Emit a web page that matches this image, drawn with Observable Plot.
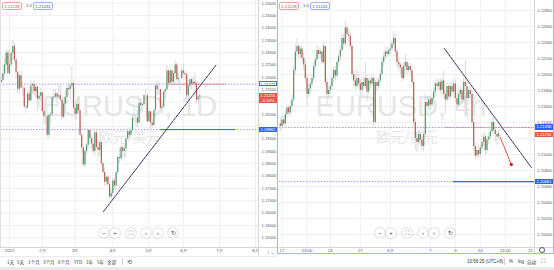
<!DOCTYPE html>
<html><head><meta charset="utf-8">
<script src="https://cdn.jsdelivr.net/npm/d3@7"></script>
<script src="https://cdn.jsdelivr.net/npm/@observablehq/plot@0.6"></script>
<style>
body{margin:0;background:#fff;font-family:"Liberation Sans",Arial,sans-serif;}
#wrap{position:relative;width:554px;height:270px;overflow:hidden;background:#fff}
</style></head>
<body><div id="wrap"></div>
<script>
// ---------------- DATA ----------------
// Daily EURUSD candles, index 0 = first trading day of 2021
const dailyStart = -5;
const dailyOpen0 = 1.2180;
const dailyClose = [
1.2187,1.2214,1.2250,1.2298,1.2215,
1.2250,1.2296,1.2325,1.2270,1.2220,1.2152,1.2206,1.2157,1.2156,1.2080,1.2076,1.2132,1.2105,1.2165,1.2171,1.2141,1.2160,1.2112,1.2123,1.2137,
1.2060,1.2040,1.2040,1.1965,1.2045,1.2050,1.2118,1.2120,1.2133,1.2120,1.2125,1.2108,1.2038,1.2092,1.2118,1.2155,1.2150,1.2165,1.2175,1.2075,
1.2050,1.2090,1.2065,1.1965,1.1915,1.1845,1.1900,1.1925,1.1985,1.1952,1.1930,1.1900,1.1975,1.1915,1.1905,1.1935,1.1850,1.1815,1.1775,1.1795,1.1765,1.1715,1.1730,
1.1780,1.1760,1.1815,1.1875,1.1870,1.1915,1.1900,1.1910,1.1950,1.1980,1.1965,1.1985,1.2035,1.2035,1.2035,1.2015,1.2095,1.2085,1.2090,1.2125,1.2125,1.2020,
1.2060,1.2015,1.2005,1.2065,1.2165,1.2150,1.2150,1.2075,1.2080,1.2140,1.2150,1.2225,1.2175,1.2225,1.2180,1.2215,1.2250,1.2190,1.2195,1.2195,1.2225,
1.2215,1.2210,1.2125,1.2165,1.2190,1.2172,1.2180,1.2173,1.2108,1.2120,1.2125];
const dailyHigh = [
1.2210,1.2250,1.2275,1.2310,1.2310,
1.2310,1.2303,1.2349,1.2340,1.2280,1.2222,1.2212,1.2223,1.2180,1.2162,1.2090,1.2145,1.2150,1.2190,1.2180,1.2185,1.2170,1.2164,1.2140,1.2153,
1.2140,1.2075,1.2060,1.2045,1.2050,1.2060,1.2125,1.2150,1.2150,1.2135,1.2170,1.2168,1.2110,1.2100,1.2145,1.2170,1.2180,1.2170,1.2243,1.2185,
1.2100,1.2110,1.2115,1.2070,1.1970,1.1925,1.1912,1.1935,1.1990,1.1990,1.1965,1.1950,1.1985,1.1990,1.1945,1.1945,1.1940,1.1855,1.1835,1.1800,1.1800,1.1775,1.1745,
1.1790,1.1790,1.1820,1.1880,1.1915,1.1925,1.1925,1.1925,1.1955,1.1990,1.1995,1.1995,1.2050,1.2080,1.2045,1.2070,1.2100,1.2115,1.2095,1.2130,1.2150,1.2130,
1.2075,1.2060,1.2030,1.2070,1.2172,1.2180,1.2185,1.2150,1.2090,1.2145,1.2160,1.2245,1.2230,1.2235,1.2230,1.2225,1.2266,1.2260,1.2215,1.2200,1.2235,
1.2254,1.2225,1.2215,1.2185,1.2195,1.2195,1.2200,1.2218,1.2180,1.2130,1.2146];
const dailyLow = [
1.2170,1.2180,1.2205,1.2245,1.2205,
1.2210,1.2245,1.2265,1.2255,1.2193,1.2132,1.2133,1.2154,1.2120,1.2075,1.2054,1.2070,1.2100,1.2100,1.2130,1.2120,1.2117,1.2058,1.2075,1.2100,
1.2050,1.2010,1.2005,1.1955,1.1952,1.2010,1.2040,1.2100,1.2110,1.2090,1.2110,1.2105,1.2023,1.2030,1.2080,1.2090,1.2125,1.2110,1.2155,1.2065,
1.2025,1.2025,1.2050,1.1962,1.1893,1.1836,1.1835,1.1880,1.1910,1.1930,1.1910,1.1890,1.1880,1.1910,1.1875,1.1880,1.1840,1.1810,1.1760,1.1760,1.1760,1.1710,1.1704,
1.1720,1.1745,1.1740,1.1805,1.1850,1.1860,1.1870,1.1870,1.1875,1.1945,1.1955,1.1955,1.1975,1.2020,1.2000,1.1995,1.2010,1.2065,1.2055,1.2075,1.2105,1.2015,
1.2015,1.1986,1.1995,1.2000,1.2030,1.2125,1.2130,1.2070,1.2050,1.2075,1.2110,1.2145,1.2160,1.2175,1.2160,1.2170,1.2200,1.2180,1.2165,1.2135,1.2190,
1.2205,1.2190,1.2105,1.2105,1.2155,1.2150,1.2165,1.2145,1.2095,1.2090,1.2110];
const dailyXTicks = [0,20,40,63,85,106,128,150];
const dailyXLabels = ["2021","2月","3月","4月","5月","6月","7月","8月"];
const dailyYTicks = [1.155,1.16,1.165,1.17,1.175,1.18,1.185,1.19,1.195,1.2,1.205,1.21,1.215,1.22,1.225,1.23,1.235,1.24,1.245,1.25];
// price labels visible on the axis (1.21000 and 1.20000 sit under the price tags)
const dailyYLabels = [1.155,1.16,1.165,1.17,1.175,1.18,1.185,1.19,1.195,1.205,1.215,1.22,1.225,1.23,1.235,1.24,1.245,1.25];
const dailyLevels = [1.21721, 1.19882];
const dailyLast = 1.21256, dailyChange = "-0.50%";
const dailyTrend = [{i:57.3,p:1.16567},{i:126.2,p:1.22518}];

// 4h candles, index 0 = first 4h bar of June 1
const h4Start = -66;
const h4Open0 = 1.2138;
const h4Close = [
1.2135,1.2143,1.2138,1.2150,1.2158,1.2152, 1.2160,1.2168,1.2205,1.2228,1.2235,1.2225,
1.2232,1.2220,1.2212,1.2195,1.2175,1.2182, 1.2188,1.2195,1.2210,1.2218,1.2230,1.2225,
1.2228,1.2215,1.2235,1.2190,1.2175,1.2180, 1.2185,1.2195,1.2205,1.2198,1.2215,1.2222,
1.2230,1.2245,1.2238,1.2258,1.2250,1.2248, 1.2235,1.2200,1.2192,1.2185,1.2195,1.2188,
1.2180,1.2190,1.2185,1.2195,1.2178,1.2192, 1.2188,1.2195,1.2140,1.2190,1.2185,1.2192,
1.2200,1.2215,1.2222,1.2228,1.2225,1.2230, 1.2232,1.2238,1.2245,1.2228,1.2215,1.2212,
1.2208,1.2195,1.2210,1.2215,1.2205,1.2210, 1.2205,1.2190,1.2140,1.2120,1.2115,1.2125,
1.2118,1.2110,1.2125,1.2165,1.2160,1.2168, 1.2162,1.2170,1.2178,1.2188,1.2185,1.2190,
1.2180,1.2192,1.2175,1.2168,1.2185,1.2172, 1.2185,1.2178,1.2188,1.2170,1.2162,1.2175,
1.2180,1.2168,1.2190,1.2185,1.2170,1.2180, 1.2175,1.2140,1.2110,1.2098,1.2105,1.2100,
1.2108,1.2115,1.2122,1.2105,1.2118,1.2122, 1.2128,1.2140,1.2130,1.2125,1.2122,1.2126];
const h4High = [
1.2145,1.2150,1.2148,1.2156,1.2162,1.2160, 1.2165,1.2175,1.2210,1.2238,1.2245,1.2238,
1.2236,1.2235,1.2228,1.2218,1.2200,1.2188, 1.2192,1.2200,1.2215,1.2222,1.2236,1.2234,
1.2232,1.2230,1.2240,1.2236,1.2195,1.2185, 1.2190,1.2198,1.2210,1.2210,1.2218,1.2226,
1.2235,1.2250,1.2250,1.2266,1.2262,1.2256, 1.2252,1.2240,1.2205,1.2200,1.2205,1.2200,
1.2192,1.2195,1.2198,1.2215,1.2200,1.2196, 1.2196,1.2200,1.2198,1.2192,1.2195,1.2196,
1.2205,1.2220,1.2228,1.2235,1.2232,1.2234, 1.2238,1.2242,1.2254,1.2250,1.2232,1.2220,
1.2216,1.2212,1.2215,1.2225,1.2218,1.2214, 1.2214,1.2208,1.2195,1.2145,1.2128,1.2130,
1.2128,1.2122,1.2130,1.2175,1.2172,1.2172, 1.2172,1.2175,1.2182,1.2192,1.2195,1.2194,
1.2194,1.2195,1.2205,1.2180,1.2190,1.2188, 1.2190,1.2190,1.2195,1.2192,1.2175,1.2180,
1.2185,1.2184,1.2195,1.2218,1.2190,1.2185, 1.2184,1.2180,1.2145,1.2115,1.2110,1.2110,
1.2112,1.2120,1.2128,1.2126,1.2122,1.2128, 1.2132,1.2146,1.2145,1.2135,1.2130,1.2130];
const h4Low = [
1.2128,1.2132,1.2134,1.2136,1.2146,1.2148, 1.2148,1.2156,1.2165,1.2200,1.2222,1.2220,
1.2220,1.2215,1.2205,1.2190,1.2160,1.2170, 1.2175,1.2184,1.2192,1.2205,1.2214,1.2220,
1.2220,1.2212,1.2212,1.2185,1.2162,1.2170, 1.2175,1.2180,1.2190,1.2192,1.2195,1.2210,
1.2218,1.2226,1.2232,1.2235,1.2245,1.2240, 1.2230,1.2195,1.2185,1.2180,1.2182,1.2184,
1.2172,1.2176,1.2180,1.2182,1.2165,1.2175, 1.2182,1.2185,1.2133,1.2138,1.2178,1.2182,
1.2190,1.2198,1.2210,1.2218,1.2220,1.2222, 1.2225,1.2228,1.2235,1.2222,1.2208,1.2205,
1.2200,1.2190,1.2192,1.2205,1.2198,1.2202, 1.2198,1.2185,1.2135,1.2105,1.2102,1.2110,
1.2112,1.2105,1.2104,1.2120,1.2150,1.2156, 1.2155,1.2158,1.2165,1.2172,1.2180,1.2180,
1.2175,1.2176,1.2170,1.2150,1.2165,1.2168, 1.2168,1.2172,1.2175,1.2165,1.2158,1.2160,
1.2170,1.2162,1.2165,1.2160,1.2145,1.2165, 1.2170,1.2135,1.2105,1.2093,1.2095,1.2096,
1.2096,1.2104,1.2110,1.2098,1.2100,1.2112, 1.2118,1.2125,1.2126,1.2115,1.2112,1.2118];
const h4XTicks = [-65,-50,-36,-18,0,24,39,54,69,84];
const h4XLabels = ["17","13:00","24","27","6月","7","9","14","13:00","21"];
const h4YTicks = [1.2,1.202,1.204,1.206,1.208,1.21,1.212,1.214,1.216,1.218,1.22,1.222,1.224,1.226,1.228];
// 1.21200 sits under the last-price tag
const h4YLabels = [1.2,1.202,1.204,1.206,1.208,1.21,1.214,1.216,1.218,1.22,1.222,1.224,1.226,1.228];
const h4Levels = [1.21338, 1.20661];
const h4Trend = [{i:32.4,p:1.22325},{i:84.6,p:1.20838}];
const h4Arrow = [{i:66,p:1.21213},{i:72.6,p:1.20875}];

// ---------------- DRAWING ----------------
const GREEN="#4e9a6c", RED="#bb5c51", WICK="#cdcdcd", GRID="#f0f0f3";
const FONT="Liberation Sans, Arial, sans-serif";
const wrap=document.getElementById("wrap");
function el(css,text){const e=document.createElement("div");e.style.cssText=css;if(text!=null)e.textContent=text;wrap.appendChild(e);return e;}
function rowsFrom(start,open0,c,h,l){return c.map((v,j)=>({i:start+j,open:j?c[j-1]:open0,close:v,high:h[j],low:l[j]}));}
function candles(rows,w){return [
  Plot.ruleX(rows,{x:"i",y1:"low",y2:"high",stroke:WICK,strokeWidth:0.7}),
  Plot.ruleX(rows,{x:"i",y1:"open",y2:"close",stroke:d=>d.close>=d.open?GREEN:RED,strokeWidth:w})
];}
function axes(xt,xl,yl){return [
  Plot.axisY(yl,{anchor:"right",tickSize:0,tickPadding:3,fontSize:4.1,textAnchor:"start",tickFormat:d=>d.toFixed(5),fill:"#555"}),
  Plot.axisX(xt,{anchor:"bottom",tickSize:0,tickPadding:1.5,fontSize:4.3,tickFormat:d=>xl[xt.indexOf(d)],fill:"#555"})
];}

const dRows=rowsFrom(dailyStart,dailyOpen0,dailyClose,dailyHigh,dailyLow);
const left=Plot.plot({
  width:277,height:256,marginLeft:0,marginRight:19,marginTop:0,marginBottom:9,
  x:{type:"linear",domain:[-5.5,151.8]},
  y:{type:"linear",domain:[1.15109,1.25109]},
  style:{fontFamily:FONT,background:"#fff"},
  marks:[
    Plot.gridY(dailyYTicks,{stroke:GRID,strokeOpacity:1}),
    Plot.gridX(dailyXTicks,{stroke:GRID,strokeOpacity:1}),
    Plot.text(["EURUSD, 1D"],{text:d=>d,frameAnchor:"middle",dy:-17,fontSize:29,fill:"#e6e6e6"}),
    Plot.text(["欧元/美元"],{text:d=>d,frameAnchor:"middle",dy:14,fontSize:14,fill:"#e6e6e6",fontFamily:"Noto Sans CJK SC"}),
    Plot.ruleY(dailyLevels,{stroke:"#8080ee",strokeDasharray:"1.5,1.5",strokeWidth:0.8}),
    Plot.ruleY([dailyLevels[0]],{x1:97,x2:132,stroke:"#e48a98",strokeWidth:1}),
    Plot.ruleY([dailyLevels[1]],{x1:92,x2:137.8,stroke:"#3a62e8",strokeWidth:1}),
    ...candles(dRows,1.2),
    Plot.line(dailyTrend,{x:"i",y:"p",stroke:"#2c2c60",strokeWidth:1,strokeDasharray:"2.5,1"}),
    ...axes(dailyXTicks,dailyXLabels,dailyYLabels)
  ]
});
left.style.position="absolute";left.style.left="0px";left.style.top="0px";
wrap.appendChild(left);

const hRows=rowsFrom(h4Start,h4Open0,h4Close,h4High,h4Low);
const right=Plot.plot({
  width:274,height:256,marginLeft:0,marginRight:19,marginTop:0,marginBottom:9,
  x:{type:"linear",domain:[-66.5,86.5]},
  y:{type:"linear",domain:[1.198375,1.22925]},
  style:{fontFamily:FONT,background:"#fff"},
  marks:[
    Plot.gridY(h4YTicks,{stroke:GRID,strokeOpacity:1}),
    Plot.gridX(h4XTicks,{stroke:GRID,strokeOpacity:1}),
    Plot.text(["EURUSD, 4h"],{text:d=>d,frameAnchor:"middle",dx:-6,dy:-17,fontSize:29,fill:"#e6e6e6"}),
    Plot.text(["欧元/美元"],{text:d=>d,frameAnchor:"middle",dy:14,fontSize:14,fill:"#e6e6e6",fontFamily:"Noto Sans CJK SC"}),
    Plot.ruleY(h4Levels,{stroke:"#8080ee",strokeDasharray:"1.5,1.5",strokeWidth:0.8}),
    Plot.ruleY([h4Levels[0]],{x1:33.6,x2:86.5,stroke:"#e07a8a",strokeDasharray:"1.5,1",strokeWidth:0.9}),
    Plot.ruleY([h4Levels[1]],{x1:37.8,x2:86.5,stroke:"#3a62e8",strokeWidth:1.2}),
    ...candles(hRows,1.2),
    Plot.line(h4Trend,{x:"i",y:"p",stroke:"#2c2c60",strokeWidth:1,strokeDasharray:"2.5,1"}),
    Plot.line(h4Arrow,{x:"i",y:"p",stroke:"#e02a2a",strokeWidth:0.9,strokeDasharray:"2,1"}),
    Plot.dot([h4Arrow[1]],{x:"i",y:"p",r:1.6,fill:"#d01818"}),
    ...axes(h4XTicks,h4XLabels,h4YLabels)
  ]
});
right.style.position="absolute";right.style.left="279px";right.style.top="0px";
wrap.appendChild(right);

// frame lines
el("position:absolute;left:258px;top:0;width:1px;height:256px;background:#d6d6d6");
el("position:absolute;left:0;top:247px;width:277px;height:1px;background:#d6d6d6");
el("position:absolute;left:0;top:0;width:1px;height:247px;background:#e0e0e0");
el("position:absolute;left:534px;top:0;width:1px;height:254px;background:#d6d6d6");
el("position:absolute;left:279px;top:247px;width:274px;height:1px;background:#d6d6d6");
el("position:absolute;left:277px;top:0;width:277px;height:254px;border:1px solid #9db8f5;border-top:none;box-sizing:border-box");
el("position:absolute;left:0;top:256px;width:277px;height:1px;background:#ececec");
el("position:absolute;left:0;top:267px;width:554px;height:3px;background:#e7eaf0");

// axis price tags, placed with the charts' y scales
const yL=left.scale("y"), yR=right.scale("y");
function tag(x,y,bg,fg,border,text,h){
  el(`position:absolute;left:${x}px;top:${y-2.6}px;width:18px;height:${h||5.2}px;background:${bg};color:${fg};border:${border};font-size:4.1px;line-height:5px;text-align:center;box-sizing:border-box;white-space:pre;font-family:${FONT}`,text);
}
tag(259,yL.apply(dailyLevels[0]),"#fff","#2a4ed0","0.5px solid #4a6ee0",dailyLevels[0].toFixed(5));
tag(259,yL.apply(dailyLevels[1]),"#2962ff","#fff","none",dailyLevels[1].toFixed(5));
tag(259,yL.apply(dailyLast),"#e5574a","#fff","none",dailyLast.toFixed(5)+"\n"+dailyChange,10);
tag(535,yR.apply(h4Levels[0]),"#2962ff","#fff","none",h4Levels[0].toFixed(5));
tag(535,yR.apply(dailyLast)+1,"#e5574a","#fff","none",dailyLast.toFixed(5));
tag(535,yR.apply(h4Levels[1]),"#2962ff","#fff","none",h4Levels[1].toFixed(5));

// top-left legend badges
function badges(x0){
  el(`position:absolute;left:${x0}px;top:2px;width:20px;height:8px;border:0.6px solid #f0a0a0;border-radius:2px;color:#e04848;font-size:4.3px;line-height:7px;text-align:center;background:#fff;box-sizing:border-box`,"1.21228");
  el(`position:absolute;left:${x0+24}px;top:2px;font-size:4.3px;line-height:8px;color:#555`,"1.0");
  el(`position:absolute;left:${x0+31}px;top:2px;width:20px;height:8px;border:0.6px solid #9db0f0;border-radius:2px;color:#3050d0;font-size:4.3px;line-height:7px;text-align:center;background:#fff;box-sizing:border-box`,"1.21241");
}
badges(2);badges(279);

// navigation buttons
const navSym=["−","+","⛶","‹","›","↻"];
function nav(xs){xs.forEach((x,k)=>el(`position:absolute;left:${x-5}px;top:228px;width:10px;height:10px;border-radius:50%;background:#fff;box-shadow:0 0 2px rgba(0,0,0,.35);font-size:6px;line-height:10px;text-align:center;color:#444`,navSym[k]));}
nav([104,115,131,146,158,173]);nav([380,391,407,423,434,450]);

// bottom toolbar (left)
const periods=["1天","5天","1个月","3个月","6个月","YTD","1年","5年","全部"];
const px=[7,17,28,43,58,74,86,97,107];
periods.forEach((t,k)=>el(`position:absolute;left:${px[k]}px;top:259px;font-size:4.5px;color:#333;white-space:nowrap;font-family:"Noto Sans CJK SC"`,t));
el("position:absolute;left:122px;top:258px;width:0.6px;height:7px;background:#ccc");
el("position:absolute;left:127px;top:258px;font-size:6px;color:#444","⟲");
// bottom status (right)
el(`position:absolute;left:467px;top:259px;font-size:4.5px;color:#333;white-space:nowrap`,"10:56:25 (UTC+8)");
el("position:absolute;left:504px;top:258px;width:0.6px;height:7px;background:#ccc");
el(`position:absolute;left:509px;top:259px;font-size:4.5px;color:#333`,"%");
el(`position:absolute;left:518px;top:259px;font-size:4.5px;color:#333`,"log");
el(`position:absolute;left:527px;top:259px;font-size:4.5px;color:#333;font-family:"Noto Sans CJK SC"`,"自动");
el(`position:absolute;left:541px;top:258px;font-size:6px;color:#444`,"⛶");
el(`position:absolute;left:539px;top:247px;width:6px;height:6px;border:0.8px solid #555;border-radius:50%;box-sizing:border-box`);
</script></body></html>
